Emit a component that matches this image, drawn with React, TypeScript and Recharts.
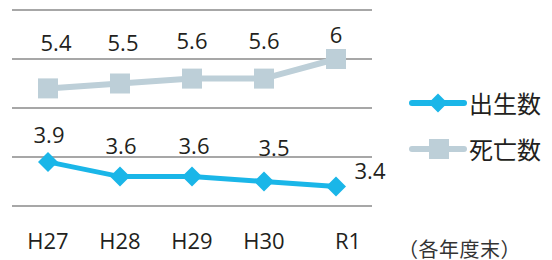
import { LineChart, Line, XAxis, YAxis, CartesianGrid, LabelList } from "recharts";

const years = ["H27", "H28", "H29", "H30", "R1"];
const births = [3.9, 3.6, 3.6, 3.5, 3.4];
const deaths = [5.4, 5.5, 5.6, 5.6, 6];
const yTicks = [3, 4, 5, 6, 7];

const data = years.map((year, i) => ({ year, births: births[i], deaths: deaths[i] }));

const BLUE = "#1ab6e8";
const GRAY = "#bdcfd8";
const TEXT = "#231f20";
const NUM_FONT = "'Open Sans', sans-serif";
const JP_FONT = "'Noto Sans CJK JP', sans-serif";

// label nudges, hand-placed like the original figure
const birthOffsets = [[1, -27], [1, -31], [2, -31], [10, -33], [34, -15]];
const deathOffsets = [[8, -45], [3, -40], [0, -38], [0, -38], [0, -24]];
const tickOffsets = [0, 0, 0, 0, 12];

const Diamond = (props: any) => {
  const { cx, cy, r = 10 } = props;
  if (cx == null || cy == null) return null;
  return (
    <polygon
      points={`${cx},${cy - r} ${cx + r},${cy} ${cx},${cy + r} ${cx - r},${cy}`}
      fill={BLUE}
    />
  );
};

const Square = (props: any) => {
  const { cx, cy, s = 10 } = props;
  if (cx == null || cy == null) return null;
  return <rect x={cx - s} y={cy - s} width={s * 2} height={s * 2} fill={GRAY} />;
};

const makeLabel = (offsets: number[][]) => (props: any) => {
  const { x, y, value, index } = props;
  const [dx, dy] = offsets[index] || [0, -20];
  return (
    <text
      x={x + dx}
      y={y + dy}
      dy="0.36em"
      textAnchor="middle"
      fill={TEXT}
      fontSize={22}
      fontFamily={NUM_FONT}
    >
      {value}
    </text>
  );
};

const YearTick = (props: any) => {
  const { x, y, payload, index } = props;
  return (
    <text
      x={x + (tickOffsets[index] || 0)}
      y={y + 27}
      dy="0.36em"
      textAnchor="middle"
      fill={TEXT}
      fontSize={22}
      fontFamily={NUM_FONT}
    >
      {payload.value}
    </text>
  );
};

const LegendBox = () => {
  const items = [
    { name: "出生数", color: BLUE, marker: "diamond" },
    { name: "死亡数", color: GRAY, marker: "square" },
  ];
  return (
    <div style={{ position: "absolute", left: 409, top: 80 }}>
      {items.map((it) => (
        <div key={it.name} style={{ display: "flex", alignItems: "center", height: 46 }}>
          <svg width={58} height={24}>
            <line x1={3} y1={12} x2={55} y2={12} stroke={it.color} strokeWidth={6} strokeLinecap="round" />
            {it.marker === "diamond" ? (
              <Diamond cx={29} cy={12} r={9.5} />
            ) : (
              <Square cx={30} cy={12} s={10} />
            )}
          </svg>
          <span style={{ fontFamily: JP_FONT, fontSize: 24, color: TEXT, marginLeft: 2, lineHeight: 1 }}>
            {it.name}
          </span>
        </div>
      ))}
    </div>
  );
};

export default function App() {
  return (
    <div style={{ position: "absolute", left: 0, top: 0, width: 552, height: 260, background: "#fff" }}>
      <LineChart width={552} height={260} data={data} margin={{ top: 10, right: 180, bottom: 0, left: 12 }}>
        <CartesianGrid vertical={false} stroke="#8a8a8a" strokeWidth={1.5} />
        <XAxis
          dataKey="year"
          axisLine={false}
          tickLine={false}
          tick={<YearTick />}
          interval={0}
          height={54}
          padding={{ left: 36, right: 36 }}
        />
        <YAxis hide domain={[3, 7]} ticks={yTicks} />
        <Line
          dataKey="deaths"
          name="死亡数"
          stroke={GRAY}
          strokeWidth={6}
          dot={<Square s={10} />}
          activeDot={false}
          isAnimationActive={false}
        >
          <LabelList dataKey="deaths" content={makeLabel(deathOffsets)} />
        </Line>
        <Line
          dataKey="births"
          name="出生数"
          stroke={BLUE}
          strokeWidth={5}
          dot={<Diamond r={10} />}
          activeDot={false}
          isAnimationActive={false}
        >
          <LabelList dataKey="births" content={makeLabel(birthOffsets)} />
        </Line>
      </LineChart>
      <LegendBox />
      <div
        style={{
          position: "absolute",
          left: 398,
          top: 237,
          fontFamily: JP_FONT,
          fontSize: 20,
          letterSpacing: 0.5,
          color: "#333",
          lineHeight: "24px",
          whiteSpace: "nowrap",
        }}
      >
        （各年度末）
      </div>
    </div>
  );
}
